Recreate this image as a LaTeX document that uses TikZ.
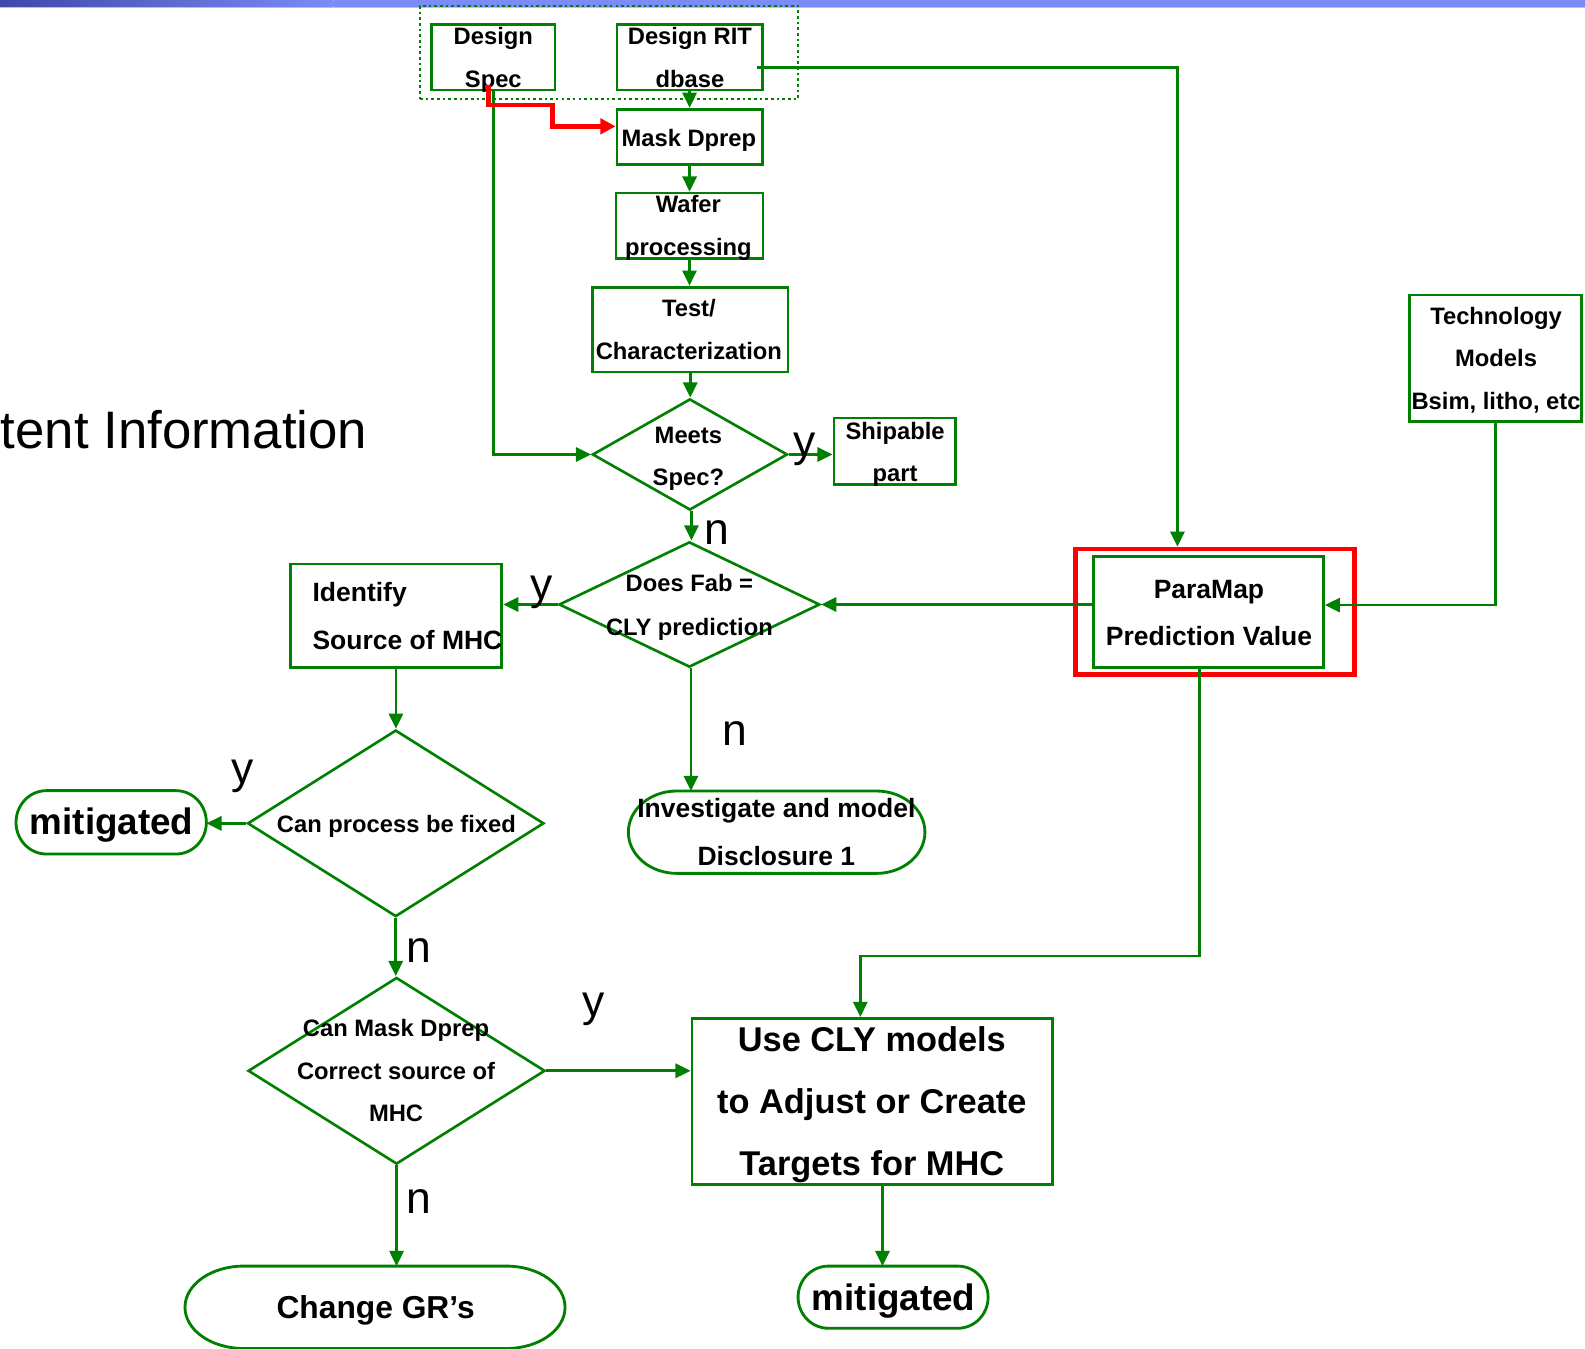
\documentclass[tikz,border=0pt]{standalone}
\usepackage{fontspec}
\setmainfont{Liberation Sans}
\usetikzlibrary{shapes.geometric,arrows.meta,calc}

\definecolor{flow}{RGB}{0,128,0}
\definecolor{hilite}{RGB}{255,0,0}
\definecolor{bandA}{RGB}{62,72,168}
\definecolor{bandB}{RGB}{123,140,247}
\definecolor{bandC}{RGB}{176,188,252}

% stacked lines; the node's base is the baseline of the first line
\newcommand\cstack[1]{\vtop{\halign{\hfil##\hfil\cr#1\crcr}}}
\newcommand\lstack[1]{\vtop{\halign{##\hfil\cr#1\crcr}}}
% terminator outline with elliptic ends round a named node
\newcommand\stadium[3]{%
  \draw[termline] ($(#1.north west)+(#2,0)$) -- ($(#1.north east)+(-#2,0)$)
    arc[start angle=90,end angle=-90,x radius=#2,y radius=#3]
    -- ($(#1.south west)+(#2,0)$)
    arc[start angle=270,end angle=90,x radius=#2,y radius=#3] -- cycle;}

\tikzset{
  boxnode/.style={draw=flow, line width=2.8pt, rectangle, inner sep=0pt, outer sep=1.4pt},
  decide/.style={draw=flow, line width=2.6pt, diamond, inner sep=0pt, outer sep=1.3pt},
  termnode/.style={rectangle, inner sep=0pt, outer sep=0pt},
  termline/.style={draw=flow, line width=2.8pt},
  conn/.style={draw=flow, line width=2.6pt, -{Triangle[length=15pt,width=14pt]}},
  redconn/.style={draw=hilite, line width=4.6pt, -{Triangle[length=15pt,width=15pt]}},
  lbl/.style={inner sep=0pt, anchor=base, font=\bfseries\fontsize{23.5}{42}\selectfont},
  lblM/.style={inner sep=0pt, anchor=base, font=\bfseries\fontsize{26.2}{47}\selectfont},
  yesno/.style={inner sep=0pt, anchor=base, font=\fontsize{44}{44}\selectfont},
}

\begin{document}
\begin{tikzpicture}[x=1pt,y=1pt]
\useasboundingbox (0,0) rectangle (1568,-1334);
\clip (0,0) rectangle (1568,-1334);
\fill[white] (0,0) rectangle (1568,-1334);

% title band along the top edge
\shade[left color=bandA, right color=bandB] (0,0) rectangle (330,-6.5);
\fill[bandB] (330,0) rectangle (1568,-6.5);
\fill[bandC] (0,-6.5) rectangle (1568,-7.6);

\node[inner sep=0pt, anchor=base west, font=\fontsize{52.2}{60}\selectfont] (side) at (0.5,-443.5) {tent Information};

% inputs
\node[draw=flow, line width=2.6pt, dash pattern=on 2.6pt off 3pt, rectangle, inner sep=0pt,
      minimum width=374pt, minimum height=92pt] (inputs) at (602.5,-52) {};
\node[boxnode, minimum width=122pt, minimum height=65pt] (dspec) at (488,-56.5) {};
\node[boxnode, minimum width=143.6pt, minimum height=65pt] (drit) at (682.2,-56.5) {};

% process column
\node[boxnode, minimum width=143.6pt, minimum height=55pt] (mask) at (682.2,-135.5) {};
\node[boxnode, minimum width=145.4pt, minimum height=65pt] (wafer) at (682.1,-223.5) {};
\node[boxnode, minimum width=193.6pt, minimum height=84pt] (test) at (682.8,-326) {};
\node[decide, minimum width=193pt, minimum height=110pt] (meets) at (682.5,-449.6) {};
\node[boxnode, minimum width=120.5pt, minimum height=65.5pt] (ship) at (885.25,-446.25) {};
\node[decide, minimum width=258pt, minimum height=124pt] (dfab) at (682,-598) {};
\node[termnode, minimum width=293.4pt, minimum height=81.5pt] (inv) at (768.3,-823.25) {};

% prediction side
\node[draw=hilite, line width=4.5pt, rectangle, inner sep=0pt, outer sep=2.25pt,
      minimum width=275.8pt, minimum height=124.1pt] (pmframe) at (1202.05,-605.1) {};
\node[boxnode, minimum width=227.5pt, minimum height=109.8pt] (pm) at (1195.45,-605.6) {};
\node[boxnode, minimum width=170.8pt, minimum height=125.4pt] (tech) at (1479.4,-354.5) {};

% mitigation branch
\node[boxnode, minimum width=209.4pt, minimum height=102.2pt] (ident) at (391.7,-609.1) {};
\node[decide, minimum width=293.2pt, minimum height=184.6pt] (canfix) at (391.5,-814.5) {};
\node[termnode, minimum width=188.3pt, minimum height=62.7pt] (mitL) at (110,-813.5) {};
\node[decide, minimum width=293.8pt, minimum height=184.7pt] (canmask) at (392.3,-1059.3) {};
\node[boxnode, minimum width=356.4pt, minimum height=164.2pt] (cly) at (862.8,-1089.6) {};
\node[termnode, minimum width=188pt, minimum height=61.5pt] (mitB) at (883.5,-1283.25) {};
\node[termnode, minimum width=376pt, minimum height=81.5pt] (chgr) at (371,-1293.25) {};

\stadium{mitL}{30pt}{31.35pt}
\stadium{inv}{48pt}{40.75pt}
\stadium{mitB}{30pt}{30.75pt}
\stadium{chgr}{58pt}{40.75pt}

% connectors
\draw[conn] (drit.south) -- (drit.south |- mask.north);
\draw[conn] (mask.south) -- (mask.south |- wafer.north);
\draw[conn] (wafer.south) -- (wafer.south |- test.north);
\draw[conn] (test.south) -- (test.south |- meets.north);
\draw[conn] ([xshift=1.5pt]meets.south) -- ([xshift=1.5pt]meets.south |- dfab.north);
\draw[conn] (meets.east) -- (meets.east -| ship.west);
\draw[conn] ([xshift=1.5pt]dfab.south) -- ([xshift=1.5pt]dfab.south |- inv.north);
\draw[conn] (dfab.west) -- (dfab.west -| ident.east);
\draw[conn] (dspec.south) |- (meets.west);
\draw[conn] ([shift={(-6.8pt,-10.5pt)}]drit.east) -| ([xshift=-37.25pt]pmframe.north);
\draw[conn] (tech.south) |- ([yshift=7pt]pm.east);
\draw[conn] (pm.west |- dfab.east) -- (dfab.east);
\draw[conn] ([xshift=-8.95pt]pm.south) -- ++(0,-283.9) -| ([xshift=-11.7pt]cly.north);
\draw[conn] (ident.south) -- (ident.south |- canfix.north);
\draw[conn] (canfix.west) -- (canfix.west -| mitL.east);
\draw[conn] (canfix.south) -- (canfix.south |- canmask.north);
\draw[conn] (canmask.east) -- (canmask.east -| cly.west);
\draw[conn] (canmask.south) -- (canmask.south |- chgr.north);
\draw[conn] ([xshift=10.2pt]cly.south) -- ([xshift=-10.5pt]mitB.north);

% texts
\node[lbl] (dspecT) at (488,-44.5) {\cstack{Design\cr Spec}};
\node[lbl] (dritT) at (682.5,-44.5) {\cstack{Design RIT\cr dbase}};
\node[lbl] (maskT) at (681.5,-145) {Mask Dprep};
\node[lbl] (waferT) at (681,-210.5) {\cstack{Wafer\cr processing}};
\node[lbl] (testT) at (681.5,-313.5) {\cstack{Test/\cr Characterization}};
\node[lbl] (meetsT) at (681,-438.6) {\cstack{Meets\cr Spec?}};
\node[lbl] (shipT) at (885.5,-434.6) {\cstack{Shipable\cr part}};
\node[lbl, font=\bfseries\fontsize{23.5}{43}\selectfont] (dfabT) at (682,-585.3) {\cstack{Does Fab =\cr CLY prediction}};
\node[lblM] (pmT) at (1196,-592) {\cstack{ParaMap\cr Prediction Value}};
\node[lbl] (techT) at (1480,-321) {\cstack{Technology\cr Models\cr Bsim, litho, etc}};
\node[lblM, anchor=base west] (identT) at (309,-595.2) {\lstack{Identify\cr Source of MHC}};
\node[lbl] (canfixT) at (392.2,-823.5) {Can process be fixed};
\node[lbl, font=\bfseries\fontsize{36.4}{40}\selectfont] (mitLT) at (110.4,-826) {mitigated};
\node[lbl, font=\bfseries\fontsize{26.2}{47.8}\selectfont] (invT) at (768,-808.6) {\cstack{Investigate and model\cr Disclosure 1}};
\node[lbl] (canmaskT) at (391.8,-1025.6) {\cstack{Can Mask Dprep\cr Correct source of\cr MHC}};
\node[lbl, font=\bfseries\fontsize{34}{61.4}\selectfont] (clyT) at (862.5,-1039.8) {\cstack{Use CLY models\cr to Adjust or Create\cr Targets for MHC}};
\node[lbl, font=\bfseries\fontsize{31.4}{36}\selectfont] (chgrT) at (371.6,-1304.2) {Change GR’s};
\node[lbl, font=\bfseries\fontsize{36.4}{40}\selectfont] (mitBT) at (884,-1296) {mitigated};

% branch labels
\node[yesno] (y1) at (796.4,-451.5) {y};
\node[yesno] (n1) at (709,-539) {n};
\node[yesno] (y2) at (536,-593.3) {y};
\node[yesno] (y3) at (240,-775) {y};
\node[yesno] (n2) at (414,-952) {n};
\node[yesno] (y4) at (587,-1005.5) {y};
\node[yesno] (n3) at (414.5,-1200.3) {n};
\node[yesno] (n4) at (727,-737) {n};

% highlighted path from the design spec into mask data prep
\draw[redconn] ([shift={(-5pt,6.4pt)}]dspec.south) -- ++(0,-20) -- ++(63.6,0) |- ([yshift=10.5pt]mask.west);
\end{tikzpicture}
\end{document}
